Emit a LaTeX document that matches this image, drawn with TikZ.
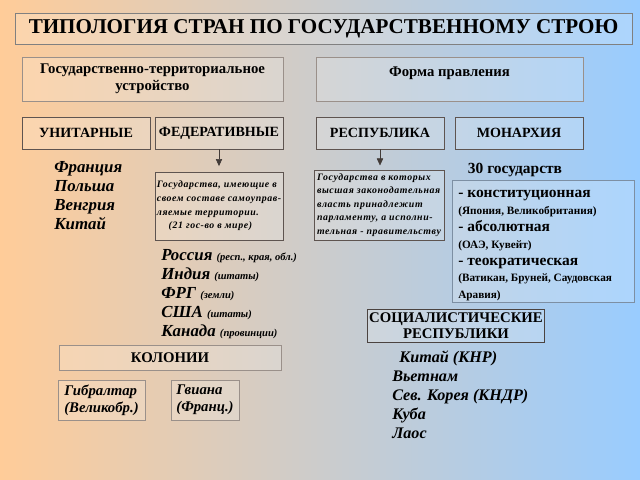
\documentclass[tikz,border=0pt]{standalone}
\usepackage{fontspec}
\setmainfont{Liberation Serif}
\newfontfamily\razr[LetterSpace=6]{Liberation Serif}
\usetikzlibrary{arrows.meta}

\definecolor{fonL}{HTML}{FFCC99}
\definecolor{fonM}{HTML}{CCCCCC}
\definecolor{fonR}{HTML}{99CCFF}
\definecolor{ramka}{HTML}{9A908A}
\definecolor{ramkaT}{HTML}{5E5450}
\definecolor{ramkaS}{HTML}{7D8FA3}

\begin{document}
\begin{tikzpicture}[x=0.025cm, y=-0.025cm,
  box/.style={draw=ramka, fill=white, fill opacity=0.18, text opacity=1,
    inner sep=1pt, align=center, font=\bfseries\fontsize{10.5}{12}\selectfont},
  typebox/.style={box, draw=ramkaT, minimum width=3.2cm, minimum height=0.8cm,
    font=\bfseries\fontsize{10}{12}\selectfont},
  descbox/.style={box, draw=ramkaT, align=left,
    font=\razr\bfseries\itshape\fontsize{7}{9.7}\selectfont},
  list/.style={anchor=north west, align=left, inner sep=0pt,
    font=\bfseries\itshape\fontsize{12}{13.5}\selectfont}]
  % фон
  \useasboundingbox (0,0) rectangle (640,480);
  \shade[left color=fonL, middle color=fonM, right color=fonR] (0,0) rectangle (640,480);

  % заголовок
  \node[box, draw=gray, minimum width=15.425cm, minimum height=0.775cm,
    font=\bfseries\fontsize{15}{18}\selectfont] (title) at (323.5,28.5)
    {ТИПОЛОГИЯ СТРАН ПО ГОСУДАРСТВЕННОМУ СТРОЮ};

  % два признака
  \node[box, minimum width=6.525cm, minimum height=1.1cm] (ustr) at (152.5,79)
    {Государственно-территориальное\\устройство};
  \node[box, minimum width=6.675cm, minimum height=1.1cm,
    label={[below=4pt, font=\bfseries\fontsize{10.5}{12}\selectfont]north:Форма правления}]
    (forma) at (449.5,79) {};

  % типы
  \node[typebox] (unit) at (86,133) {УНИТАРНЫЕ};
  \node[typebox] (fed) at (219,133) {ФЕДЕРАТИВНЫЕ};
  \node[typebox] (resp) at (380,133) {РЕСПУБЛИКА};
  \node[typebox] (mon) at (519,133) {МОНАРХИЯ};

  % пояснения
  \node[descbox, minimum width=3.2cm, minimum height=1.7cm] (feddesc) at (219,206)
    {Государства, имеющие в\\своем составе самоуправ-\\ляемые территории.\\
     \hspace*{1.2em}(21 гос-во в мире)};
  \node[descbox, minimum width=3.25cm, minimum height=1.75cm] (respdesc) at (379,205)
    {Государства в которых\\высшая законодательная\\власть принадлежит\\
     парламенту, а исполни-\\тельная - правительству};
  \draw[-{Triangle[length=5pt,width=4.5pt]}, shorten >=4pt, ramkaT!70!black]
    (fed.south) -- (feddesc.north);
  \draw[-{Triangle[length=5pt,width=4.5pt]}, shorten >=3pt, ramkaT!70!black]
    (resp.south) -- (resp.south |- respdesc.north);

  % страны
  \node[list] (unitlist) at (54,161) {Франция\\Польша\\Венгрия\\Китай};
  \node[list] (fedlist) at (161,249)
    {Россия {\bfseries\itshape\fontsize{7.5}{9}\selectfont(респ., края, обл.)}\\
     Индия {\bfseries\itshape\fontsize{7.5}{9}\selectfont(штаты)}\\
     ФРГ {\bfseries\itshape\fontsize{7.5}{9}\selectfont(земли)}\\
     США {\bfseries\itshape\fontsize{7.5}{9}\selectfont(штаты)}\\
     Канада {\bfseries\itshape\fontsize{7.5}{9}\selectfont(провинции)}};

  % монархии
  \node[anchor=west, font=\bfseries\fontsize{11}{12}\selectfont] (tridcat) at (463,170)
    {30 государств};
  \node[box, draw=ramkaS, minimum width=4.55cm, minimum height=3.05cm] (monbox) at (543,241) {};
  \node[list, font=\bfseries\fontsize{11}{12}\selectfont] (monlist) at (458,190)
    {- конституционная\\
     {\fontsize{8}{12}\selectfont(Япония, Великобритания)}\\
     - абсолютная\\
     {\fontsize{8}{12}\selectfont(ОАЭ, Кувейт)}\\
     - теократическая\\
     {\fontsize{8}{12}\selectfont(Ватикан, Бруней, Саудовская}\\
     {\fontsize{8}{12}\selectfont Аравия)}};

  % социалистические
  \node[box, draw=ramkaT!80!black, minimum width=4.4cm, minimum height=0.825cm,
    font=\bfseries\fontsize{10.5}{11.4}\selectfont] (soc) at (456,325.5)
    {СОЦИАЛИСТИЧЕСКИЕ\\РЕСПУБЛИКИ};
  \node[list, font=\bfseries\itshape\fontsize{11.5}{13.5}\selectfont] (soclist) at (392,351)
    {\hspace*{5pt}Китай (КНР)\\Вьетнам\\Сев. Корея (КНДР)\\Куба\\Лаос};

  % колонии
  \node[box, minimum width=5.55cm, minimum height=0.625cm] (kol) at (170,357.5) {КОЛОНИИ};
  \node[box, align=left, minimum width=2.175cm, minimum height=1cm,
    font=\bfseries\itshape\fontsize{10.5}{12}\selectfont] (gibr) at (101.5,400)
    {Гибралтар\\(Великобр.)};
  \node[box, align=left, minimum width=1.7cm, minimum height=1cm,
    font=\bfseries\itshape\fontsize{10.5}{12}\selectfont] (gvian) at (205,400)
    {Гвиана\\(Франц.)};
\end{tikzpicture}
\end{document}
